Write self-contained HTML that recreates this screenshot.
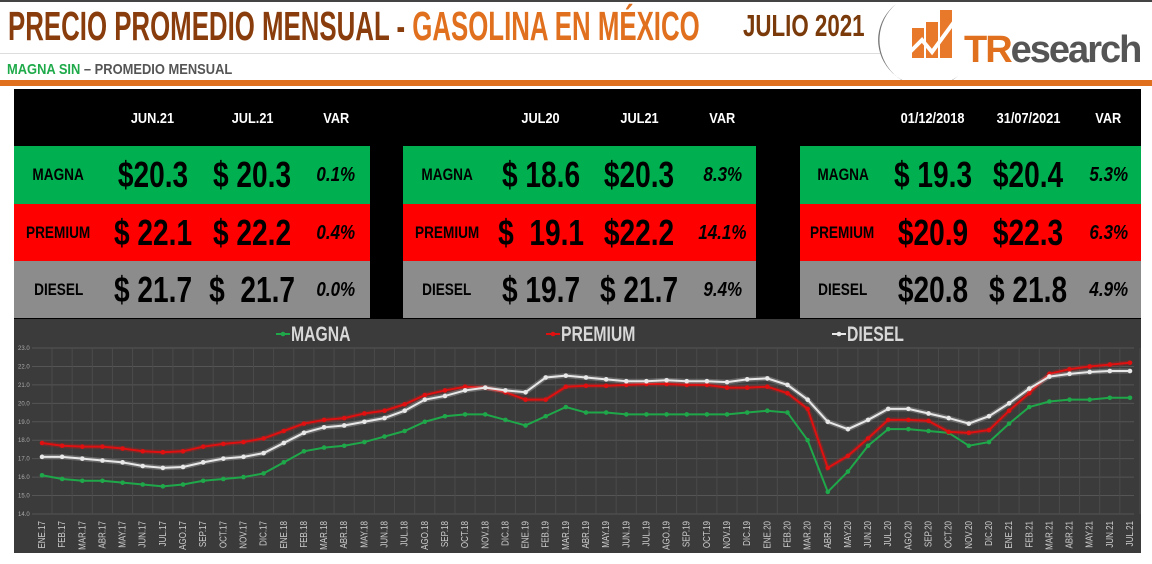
<!DOCTYPE html>
<html><head><meta charset="utf-8">
<style>
body{margin:0;width:1152px;height:564px;background:#fff;position:relative;overflow:hidden;font-family:"Liberation Sans",sans-serif}
.abs{position:absolute}
.cond{font-family:"Liberation Sans Narrow","Liberation Sans",sans-serif;font-weight:bold;white-space:nowrap}
.cell{position:absolute;display:flex;align-items:center;justify-content:center;color:#000}
</style></head><body>
<div class="abs" style="left:0;top:0;width:1152px;height:2px;background:#444"></div>
<div class="abs cond" style="left:8px;top:3px;font-size:41px;color:#8a3d0c;transform:scaleX(0.63);transform-origin:left">PRECIO PROMEDIO MENSUAL - <span style="color:#e0701e">GASOLINA EN MÉXICO</span></div>
<div class="abs cond" style="left:743px;top:8px;font-size:31px;color:#7a3a0a;transform:scaleX(0.72);transform-origin:left">JULIO 2021</div>
<div class="abs cond" style="left:7px;top:61px;font-size:15px;color:#555;transform:scaleX(0.86);transform-origin:left"><span style="color:#1faa4a">MAGNA SIN</span> – PROMEDIO MENSUAL</div>
<div class="abs" style="left:0;top:53px;width:880px;height:1px;background:#ddd"></div>
<svg class="abs" style="left:878px;top:0" width="274" height="84">
<path d="M18 4 A38 38 0 0 0 80 76 A42 40 0 0 1 18 4Z" fill="#777"/>
<rect x="34" y="28" width="12" height="30" fill="#e8782a"/>
<rect x="48" y="22" width="12" height="36" fill="#e8782a"/>
<rect x="62" y="10" width="12" height="48" fill="#e8782a"/>
<polyline points="32,52 44,40 54,52 76,22" stroke="#fff" stroke-width="4" fill="none"/>
<text x="86" y="62" font-family="Liberation Sans" font-weight="bold" font-size="38" fill="#e0701e" letter-spacing="-2">TR<tspan fill="#555">esearch</tspan></text>
</svg>
<div class="abs" style="left:0;top:80px;width:1152px;height:6px;background:#e0701e"></div>

<div class="abs" style="left:14px;top:89px;width:1127px;height:230px;background:#000"></div>
<div id="tables"></div>

<svg class="abs" id="chart" style="left:14px;top:319px" width="1127" height="234"></svg>

<script>
// ---- tables ----
const panels=[
 {x:14,w:356,head:["JUN.21","JUL.21","VAR"],rows:[["$20.3","$ 20.3","0.1%"],["$ 22.1","$ 22.2","0.4%"],["$ 21.7","$  21.7","0.0%"]]},
 {x:403,w:353,head:["JUL20","JUL21","VAR"],rows:[["$ 18.6","$20.3","8.3%"],["$  19.1","$22.2","14.1%"],["$ 19.7","$ 21.7","9.4%"]]},
 {x:800,w:341,head:["01/12/2018","31/07/2021","VAR"],rows:[["$ 19.3","$20.4","5.3%"],["$20.9","$22.3","6.3%"],["$20.8","$ 21.8","4.9%"]]}
];
const rowNames=["MAGNA","PREMIUM","DIESEL"], rowColors=["#00b050","#ff0000","#8c8c8c"], rowTops=[146,204,261];
const T=document.getElementById('tables');
let html='';
panels.forEach((p,pi)=>{
  const cw=[p.w*0.25,p.w*0.28,p.w*0.28,p.w*0.19];
  let cx=[p.x];for(let i=0;i<3;i++)cx.push(cx[i]+cw[i]);
  p.head.forEach((h,i)=>{html+=`<div class="cell cond" style="left:${cx[i+1]}px;top:96px;width:${cw[i+1]}px;height:44px;color:#fff;font-size:15px"><span style="display:inline-block;transform:scaleX(0.85)">${h}</span></div>`;});
  rowNames.forEach((r,ri)=>{
    html+=`<div class="abs" style="left:${p.x}px;top:${rowTops[ri]}px;width:${p.w}px;height:${ri==2?57:58}px;background:${rowColors[ri]}"></div>`;
    html+=`<div class="cell cond" style="left:${cx[0]}px;top:${rowTops[ri]}px;width:${cw[0]}px;height:58px;font-size:17px"><span style="display:inline-block;transform:scaleX(0.8)">${r}</span></div>`;
    p.rows[ri].forEach((v,vi)=>{
      const last=vi==2;
      html+=`<div class="cell cond" style="left:${cx[vi+1]}px;top:${rowTops[ri]}px;width:${cw[vi+1]}px;height:58px;font-size:${last?20:36}px;${last?'font-style:italic':''}"><span style="display:inline-block;white-space:pre;transform:scaleX(${last?0.85:0.78})">${v}</span></div>`;
    });
  });
});
T.innerHTML=html;

// ---- chart data ----
const months=["ENE.17","FEB.17","MAR.17","ABR.17","MAY.17","JUN.17","JUL.17","AGO.17","SEP.17","OCT.17","NOV.17","DIC.17",
"ENE.18","FEB.18","MAR.18","ABR.18","MAY.18","JUN.18","JUL.18","AGO.18","SEP.18","OCT.18","NOV.18","DIC.18",
"ENE.19","FEB.19","MAR.19","ABR.19","MAY.19","JUN.19","JUL.19","AGO.19","SEP.19","OCT.19","NOV.19","DIC.19",
"ENE.20","FEB.20","MAR.20","ABR.20","MAY.20","JUN.20","JUL.20","AGO.20","SEP.20","OCT.20","NOV.20","DIC.20",
"ENE.21","FEB.21","MAR.21","ABR.21","MAY.21","JUN.21","JUL.21"];
const magna=[16.1,15.9,15.8,15.8,15.7,15.6,15.5,15.6,15.8,15.9,16.0,16.2,16.8,17.4,17.6,17.7,17.9,18.2,18.5,19.0,19.3,19.4,19.4,19.1,18.8,19.3,19.8,19.5,19.5,19.4,19.4,19.4,19.4,19.4,19.4,19.5,19.6,19.5,18.0,15.2,16.3,17.7,18.6,18.6,18.5,18.4,17.7,17.9,18.9,19.8,20.1,20.2,20.2,20.3,20.3];
const premium=[17.85,17.7,17.65,17.65,17.55,17.4,17.35,17.4,17.65,17.8,17.9,18.1,18.5,18.9,19.1,19.2,19.45,19.6,19.95,20.45,20.7,20.9,20.85,20.6,20.2,20.2,20.9,20.95,20.95,21.0,21.05,21.05,21.0,21.0,20.85,20.85,20.9,20.55,19.7,16.5,17.15,18.1,19.1,19.1,19.05,18.45,18.4,18.55,19.6,20.55,21.6,21.85,22.0,22.1,22.2];
const diesel=[17.1,17.1,17.0,16.9,16.8,16.6,16.5,16.55,16.8,17.0,17.1,17.3,17.85,18.4,18.7,18.8,19.0,19.2,19.6,20.2,20.4,20.7,20.85,20.7,20.6,21.4,21.5,21.4,21.3,21.2,21.2,21.25,21.2,21.2,21.15,21.3,21.35,21.0,20.2,19.0,18.6,19.1,19.7,19.7,19.45,19.2,18.9,19.3,20.0,20.8,21.45,21.6,21.7,21.75,21.75];
const yTicks=[14,15,16,17,18,19,20,21,22,23];
const yTickLabels=["14.0","15.0","16.0","17.0","18.0","19.0","20.0","21.0","22.0","23.0"];

const NS="http://www.w3.org/2000/svg";
const svg=document.getElementById('chart');
const PL=18,PR=1120;
const yMin=14,yMax=23,Y0=195,Y1=29;
function xs(i){return PL+10+i*(PR-PL-14)/(months.length-1);}
function ys(v){return Y0-(v-yMin)/(yMax-yMin)*(Y0-Y1);}
function el(t,a){const e=document.createElementNS(NS,t);for(const k in a)e.setAttribute(k,a[k]);svg.appendChild(e);return e;}
const bg=el('rect',{x:0,y:0,width:1127,height:234,fill:'#3b3b3b'});


yTicks.forEach((t,i)=>{
  const g=el('line',{x1:PL,x2:PR,y1:ys(t),y2:ys(t),stroke:'#555','stroke-width':1});
  
  
  const l=el('text',{x:4,y:ys(t)+2,'font-size':6,fill:'#aaa','font-family':'Liberation Sans'});
  l.textContent=yTickLabels[i];
  
  
});
months.forEach((m,i)=>{
  const g=el('line',{x1:xs(i)+10,x2:xs(i)+10,y1:Y1,y2:Y0,stroke:'#4b4b4b','stroke-width':1});
  
  
  const t=el('text',{x:0,y:0,'font-size':10,fill:'#ccc','font-family':'Liberation Sans Narrow, Liberation Sans','text-anchor':'end',transform:`translate(${xs(i)+3},${202}) rotate(-90) scale(0.8,1)`});
  t.textContent=m;
  
  
});
function series(arr,color,name,glow){
  const pts=arr.map((v,i)=>xs(i)+','+ys(v)).join(' ');
  if(glow){const gl=el('polyline',{points:pts,fill:'none',stroke:color,'stroke-width':5,'stroke-opacity':0.25});
    }
  const p=el('polyline',{points:pts,fill:'none',stroke:color,'stroke-width':2});
  
  
  arr.forEach((v,i)=>{const c=el('circle',{cx:xs(i),cy:ys(v),r:2.3,fill:color});
    
    });
}
series(magna,'#1fa84a','magna',false);
series(premium,'#e01010','premium',true);
series(diesel,'#e8e8e8','diesel',true);
const legend=[['MAGNA','#1fa84a',262],['PREMIUM','#e01010',532],['DIESEL','#e8e8e8',818]];
legend.forEach(([n,c,x])=>{
  const l=el('line',{x1:x,x2:x+14,y1:15,y2:15,stroke:c,'stroke-width':2});
  
  
  const d=el('circle',{cx:x+7,cy:15,r:2.3,fill:c});
  
  
  const t=el('text',{x:0,y:0,'font-size':21,fill:'#d8d8d8','font-family':'Liberation Sans Narrow, Liberation Sans','font-weight':'bold',transform:`translate(${x+15},22) scale(0.75,1)`});
  t.textContent=n;
  
  
});
</script>
</body></html>
